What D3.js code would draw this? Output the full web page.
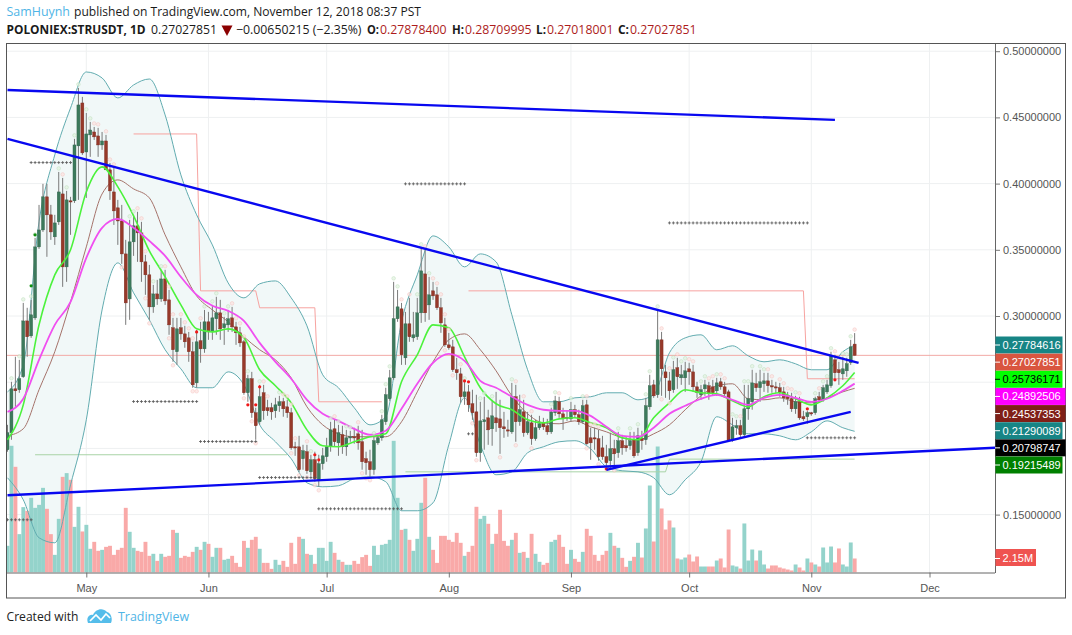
<!DOCTYPE html>
<html><head><meta charset="utf-8">
<script src="https://cdn.jsdelivr.net/npm/d3@7"></script>
<style>html,body{margin:0;padding:0;background:#fff}svg{display:block}</style>
</head><body><div id="c"></div>
<script>
// ---- daily candles from 2018-04-11, one entry per day
const startDate = new Date(Date.UTC(2018,3,11));
const opens=[.1990,.2118,.2450,.2443,.2541,.2963,.2850,.2986,.3522,.3650,.3900,.3764,.3598,.3711,.3922,.3371,.3870,.3870,.4285,.4609,.4239,.4368,.4390,.4360,.4292,.4322,.4104,.3937,.3817,.3718,.3469,.3129,.3560,.3681,.3628,.3409,.3311,.3069,.3167,.3129,.3280,.3122,.2911,.2730,.2911,.2865,.2835,.2730,.2495,.2813,.2752,.2956,.2880,.2979,.3024,.2911,.2933,.2986,.2918,.2873,.2805,.2420,.2526,.2269,.2201,.2420,.2307,.2307,.2284,.2322,.2352,.2314,.2269,.2012,.2012,.1922,.1975,.1823,.1914,.1763,.1884,.1937,.2012,.2148,.2042,.2103,.2012,.2080,.2088,.2110,.2050,.1922,.1899,.1839,.2042,.2080,.2201,.2375,.2533,.2979,.3054,.2684,.2941,.2835,.2843,.3024,.3318,.3084,.3190,.3160,.3062,.2933,.2782,.2767,.2594,.2563,.2390,.2427,.2337,.2276,.1967,.2201,.2231,.2148,.2231,.2223,.2163,.2140,.2125,.2390,.2201,.2276,.2118,.2193,.2073,.2156,.2193,.2171,.2125,.2269,.2352,.2261,.2235,.2223,.2292,.2254,.2201,.2329,.2080,.2080,.2073,.2004,.1937,.1907,.1997,.1967,.2058,.2020,.2020,.2065,.1967,.2073,.2065,.2314,.2480,.2405,.2820,.2578,.2510,.2443,.2609,.2533,.2533,.2601,.2578,.2465,.2405,.2450,.2473,.2465,.2435,.2503,.2465,.2427,.2065,.2156,.2171,.2103,.2299,.2352,.2488,.2458,.2488,.2510,.2473,.2465,.2458,.2427,.2390,.2375,.2299,.2352,.2239,.2239,.2269,.2269,.2390,.2367,.2427,.2473,.2669,.2594,.2563,.2586,.2647,.27878];
const closes=[.2118,.2450,.2435,.2526,.2963,.2843,.3009,.3522,.3650,.3900,.3764,.3635,.3703,.3937,.3371,.3877,.3862,.4292,.4594,.4232,.4375,.4405,.4353,.4292,.4322,.4104,.3945,.3794,.3718,.3469,.3099,.3560,.3681,.3628,.3409,.3311,.3069,.3167,.3129,.3280,.3114,.2933,.2745,.2903,.2865,.2805,.2730,.2480,.2805,.2752,.2956,.2880,.2986,.3024,.2903,.2941,.2979,.2918,.2873,.2797,.2420,.2526,.2269,.2171,.2390,.2284,.2284,.2276,.2329,.2352,.2299,.2269,.2004,.2004,.1839,.1982,.1831,.1914,.1771,.1884,.1944,.2012,.2140,.2050,.2118,.2012,.2080,.2088,.2080,.2042,.1899,.1892,.1839,.2058,.2080,.2216,.2405,.2533,.2979,.3069,.2707,.2941,.2843,.2858,.3024,.3341,.3024,.3160,.3152,.3062,.2948,.2782,.2760,.2594,.2571,.2390,.2427,.2329,.2269,.1967,.2208,.2216,.2140,.2246,.2193,.2156,.2148,.2133,.2390,.2201,.2292,.2118,.2201,.2073,.2156,.2186,.2163,.2125,.2276,.2359,.2261,.2223,.2227,.2292,.2254,.2201,.2322,.2035,.2042,.2073,.1937,.1937,.1892,.1997,.1959,.2058,.2004,.2004,.2058,.1944,.2095,.2058,.2322,.2473,.2397,.2820,.2601,.2533,.2435,.2594,.2541,.2556,.2586,.2578,.2465,.2420,.2443,.2480,.2412,.2420,.2495,.2465,.2412,.2058,.2163,.2171,.2103,.2299,.2375,.2495,.2458,.2503,.2510,.2473,.2465,.2458,.2420,.2382,.2375,.2299,.2352,.2231,.2223,.2269,.2261,.2375,.2367,.2458,.2480,.2699,.2571,.2571,.2601,.2639,.2767,.27028];
const highs=[.2178,.2503,.2692,.2669,.3099,.3062,.3122,.3590,.3839,.3998,.3998,.3839,.3764,.4088,.4043,.3945,.3900,.4338,.4723,.4655,.4534,.4466,.4428,.4421,.4390,.4368,.4156,.4119,.3877,.3839,.3575,.3726,.3764,.3787,.3711,.3462,.3386,.3235,.3273,.3349,.3349,.3197,.2986,.2986,.2986,.2926,.2880,.2805,.2895,.2956,.3046,.3031,.3084,.3145,.3122,.2994,.3046,.3069,.2956,.2918,.2820,.2556,.2578,.2307,.2480,.2480,.2367,.2344,.2382,.2397,.2382,.2367,.2307,.2050,.2095,.2027,.2027,.1952,.1975,.1952,.2004,.2080,.2201,.2216,.2178,.2171,.2140,.2133,.2156,.2171,.2140,.1975,.1990,.2088,.2103,.2254,.2458,.2593,.3258,.3197,.3099,.3031,.3137,.3031,.3137,.3515,.3500,.3296,.3258,.3220,.3137,.2986,.2873,.2820,.2684,.2609,.2503,.2480,.2443,.2405,.2352,.2390,.2292,.2367,.2427,.2367,.2276,.2216,.2495,.2480,.2405,.2367,.2276,.2254,.2216,.2246,.2231,.2223,.2307,.2397,.2390,.2307,.2284,.2352,.2329,.2292,.2367,.2367,.2156,.2156,.2140,.2095,.2027,.2118,.2065,.2125,.2103,.2088,.2125,.2125,.2156,.2133,.2382,.2556,.2518,.3046,.2880,.2631,.2578,.2661,.2684,.2631,.2654,.2647,.2631,.2503,.2480,.2518,.2503,.2518,.2533,.2533,.2503,.2443,.2231,.2216,.2216,.2480,.2480,.2594,.2571,.2594,.2571,.2571,.2518,.2503,.2495,.2465,.2427,.2420,.2397,.2390,.2284,.2284,.2276,.2390,.2427,.2480,.2518,.2730,.2707,.2654,.2692,.2684,.2820,.28710];
const lows=[.1975,.2065,.2314,.2420,.2533,.2692,.2835,.2971,.3507,.3635,.3447,.3575,.3537,.3688,.3220,.3258,.3613,.3854,.3877,.4217,.3892,.4202,.4330,.4202,.4255,.4104,.3877,.3688,.3537,.3394,.2933,.2971,.3454,.3409,.3258,.3160,.2971,.3024,.3084,.3107,.3084,.2858,.2654,.2631,.2820,.2760,.2654,.2458,.2458,.2647,.2722,.2820,.2820,.2858,.2820,.2782,.2880,.2880,.2782,.2767,.2405,.2352,.2231,.2065,.2178,.2216,.2246,.2216,.2231,.2276,.2239,.2231,.1990,.1944,.1823,.1839,.1808,.1793,.1748,.1710,.1839,.1899,.1975,.2012,.1944,.1959,.1944,.2050,.2035,.1990,.1839,.1801,.1786,.1801,.2027,.2058,.2178,.2360,.2518,.2956,.2631,.2631,.2805,.2805,.2820,.2948,.2956,.2971,.3122,.3046,.2873,.2767,.2745,.2578,.2518,.2344,.2329,.2276,.2216,.1937,.1899,.1990,.2027,.2020,.2125,.1959,.2080,.2088,.2110,.2050,.2171,.2088,.2103,.2027,.2058,.2140,.2140,.2103,.2110,.2246,.2231,.2140,.2208,.2201,.2231,.2178,.2186,.2027,.1914,.1990,.1907,.1914,.1869,.1839,.1861,.1929,.1952,.1975,.1990,.1929,.1944,.1990,.2027,.2292,.2382,.2382,.2397,.2382,.2367,.2420,.2450,.2480,.2427,.2480,.2427,.2382,.2367,.2397,.2367,.2397,.2397,.2443,.2382,.2050,.2050,.2103,.2080,.2080,.2216,.2292,.2427,.2352,.2427,.2420,.2420,.2420,.2390,.2352,.2329,.2276,.2261,.2216,.2208,.2186,.2246,.2254,.2344,.2352,.2412,.2458,.2518,.2480,.2518,.2541,.2631,.27018];
const volumes=[4.10,19.46,16.23,5.89,10.04,9.47,11.47,9.93,10.39,13.0,9.78,5.89,2.71,8.24,14.69,15.26,14.23,7.01,10.09,6.3,7.32,3.64,4.71,3.33,3.48,3.94,4.1,2.71,3.48,3.79,9.93,6.25,3.79,3.33,3.17,4.71,2.56,2.87,1.79,2.87,2.41,2.56,6.55,6.09,2.25,2.56,2.41,3.17,3.94,3.48,4.71,4.4,2.41,3.79,3.79,1.95,2.1,2.56,1.48,.87,4.86,3.79,5.02,5.48,3.64,1.48,1.48,.56,1.95,1.18,1.79,.87,4.56,1.33,5.48,5.17,2.87,2.71,1.33,3.79,3.79,1.79,4.71,3.02,1.95,1.64,1.18,1.18,1.79,1.33,2.36,2.71,1.02,4.1,2.71,4.25,4.4,5.02,20.22,11.47,6.55,6.71,5.02,3.33,5.17,10.7,14.54,5.48,3.48,1.48,5.63,5.63,5.02,4.71,6.09,4.56,2.56,3.17,4.1,10.09,8.24,8.7,7.48,4.4,5.94,9.63,4.86,4.1,5.02,6.09,3.02,3.17,2.25,5.94,2.87,1.64,1.18,1.48,4.71,5.02,5.79,3.94,1.33,3.48,2.1,1.64,3.17,6.71,5.63,2.71,1.79,2.71,3.33,6.09,4.1,3.79,2.25,.87,1.79,2.41,4.56,2.30,6.76,13.36,4.76,19.35,9.83,6.6,7.99,6.91,2.15,2.0,2.3,2.76,1.69,2.46,.92,.92,.92,.92,1.84,2.15,.77,6.6,1.08,.92,.61,7.53,1.84,3.53,1.84,3.38,1.23,.61,1.08,1.08,.77,.61,.46,.31,1.23,.77,.31,2.15,1.54,1.23,.92,3.84,1.54,3.99,1.54,3.69,1.23,.92,4.61,2.15];

// ---- indicators, read every fourth day (day numbers counted from startDate)
const indicatorDays=d3.range(0,213,4).concat([215]);
const bbUpper=[.2427,.2631,.3711,.4217,.4571,.4843,.4798,.4647,.4745,.4790,.4519,.4066,.3764,.3537,.3250,.3137,.3243,.3265,.3137,.2926,.2556,.2458,.2307,.2178,.2239,.2956,.3311,.3605,.3522,.3371,.3469,.3409,.3009,.2594,.2352,.2352,.2382,.2390,.2420,.2420,.2367,.2405,.2722,.2835,.2858,.2745,.2775,.2699,.2654,.2669,.2639,.2594,.2594,.2730,.27785];
const bbLower=[.1778,.1612,.1325,.1287,.1725,.2216,.3046,.3401,.3175,.2971,.2745,.2601,.2458,.2458,.2578,.2480,.2178,.2050,.1922,.1740,.1710,.1718,.1771,.1786,.1748,.1529,.1529,.1589,.2027,.2382,.2027,.1801,.1823,.1967,.2012,.2050,.2058,.1997,.1861,.1831,.1823,.1778,.1650,.1763,.1899,.2239,.2178,.2110,.2110,.2095,.2065,.2125,.2208,.2156,.21290];
const emaGreen=[.2065,.2329,.2933,.3311,.3500,.3937,.4126,.3975,.3756,.3492,.3296,.3084,.2903,.2880,.2903,.2835,.2594,.2473,.2344,.2140,.2020,.2012,.2050,.2088,.2110,.2503,.2707,.2933,.2911,.2692,.2458,.2337,.2292,.2216,.2193,.2223,.2231,.2193,.2156,.2080,.2065,.2231,.2344,.2443,.2420,.2412,.2360,.2314,.2390,.2420,.2375,.2329,.2382,.2473,.25736];
const emaMagenta=[.2276,.2375,.2669,.2933,.3107,.3439,.3666,.3733,.3666,.3567,.3454,.3296,.3160,.3077,.3039,.2963,.2797,.2654,.2526,.2367,.2261,.2208,.2148,.2103,.2133,.2299,.2488,.2647,.2714,.2661,.2510,.2458,.2390,.2329,.2292,.2284,.2284,.2246,.2163,.2095,.2088,.2156,.2261,.2322,.2375,.2405,.2367,.2329,.2382,.2405,.2382,.2352,.2375,.2435,.24893];
const bbBasis=[.2095,.2148,.2443,.2730,.3107,.3522,.3922,.4028,.3960,.3892,.3613,.3371,.3152,.3046,.2956,.2843,.2745,.2669,.2533,.2314,.2178,.2110,.2088,.2088,.2088,.2201,.2427,.2654,.2820,.2865,.2745,.2586,.2397,.2261,.2193,.2186,.2208,.2163,.2125,.2080,.2065,.2110,.2178,.2292,.2397,.2473,.2488,.2375,.2367,.2382,.2352,.2344,.2382,.2427,.24537];

// ---- drawings and studies
const lastPrice=.27027851;
const trendFromDay=[0,0,0,152], trendToDay=[210,216,251,214];
const trendFromPrice=[.4707,.4338,.1646,.1838], trendToPrice=[.4481,.2646,.2005,.2276];
const stepRedDays=[[32,48,49,63,64,78,79,95],[117,202,203,215]];
const stepRedPrices=[[.4375,.4375,.3190,.3190,.3062,.3062,.2352,.2352],[.3190,.3190,.2526,.2526]];
const stepGreenDays=[[7,71],[101,167,168,215]];
const stepGreenPrices=[[.1952,.1952],[.1823,.1823,.1919,.1919]];
const plusFrom=[6,32,49,64,79,0,101,168,203,117];
const plusTo=[16,48,63,78,100,6,116,203,215,118];
const plusPrice=[.4159,.2354,.2052,.1780,.1544,.1461,.3998,.3703,.2080,.2110];
const redDotDays=[48,61,63,64,78,79,116,117,152,203,210];
const redDotPrices=[.2880,.2329,.2329,.2465,.1952,.1914,.2510,.2503,.1846,.2299,.2518];
const greenDotDays=[6,7];
const greenDotPrices=[.3228,.3613];
const markAboveDays=[1,3,4,6,7,13,14,15,17,18,20,21,22,23,25,26,27,31,32,33,34,35,37,39,40,41,42,44,45,46,47,49,50,52,53,55,56,57,58,59,60,61,64,65,66,69,70,71,72,73,76,77,82,83,84,86,87,89,93,95,96,97,98,99,100,102,104,105,106,107,108,109,110,111,112,115,116,120,121,123,128,129,131,133,138,139,140,143,146,147,148,149,150,155,158,160,162,163,165,166,168,169,170,171,172,173,174,176,177,178,179,180,181,182,184,185,186,187,188,189,191,192,193,194,196,197,198,199,200,201,205,206,207,208,209,210,211,212,213,214,215];
const markBelowDays=[29,35,36,41,42,47,48,60,62,63,72,74,76,78,79,90,91,92,111,113,118,119,125,129,133,147,150,152,154,166,168];

// ---- axes and labels
const priceTicks=[.5,.45,.4,.35,.3,.25,.2,.15];
const hiddenPriceTicks=[.25,.2];
const monthTicks=[[2018,4],[2018,5],[2018,6],[2018,7],[2018,8],[2018,9],[2018,10],[2018,11]];
const seriesLabels=["0.27784616","0.27027851","0.25736171","0.24892506","0.24537353","0.21290089","0.20798747","0.19215489"];
const labelColors=["#178585","#d9553f","#00ff00","#ff00ff","#801f17","#178585","#000000","#008000"];
const labelText=["#fff","#fff","#000","#fff","#fff","#fff","#fff","#fff"];
const labelWide=[0,0,0,1,1,0,1,0];
const volumeLabel="2.15M";

const W=1072,H=635;
const L=7,R=995,T=44,B=572.5;
const sansFont='"Liberation Sans",Arial,sans-serif';
const head='"Open Sans",sans-serif';
const svg=d3.select("#c").append("svg").attr("width",W).attr("height",H).style("background","#fff");

const dayDate=i=>d3.utcDay.offset(startDate,i);
const xS=d3.scaleUtc().domain([startDate,new Date(Date.UTC(2018,11,1))]).range([7.5,929.5]);
const xD=i=>xS(dayDate(i));
const y=d3.scaleLinear().domain([.3,.15]).range([316,514.6]);
const yV=d3.scaleLinear().domain([0,2.15]).range([B,B-14]);

const clipId="plot";
svg.append("clipPath").attr("id",clipId).append("rect").attr("x",L).attr("y",T).attr("width",R-L).attr("height",B-T);
const plot=svg.append("g").attr("clip-path",`url(#${clipId})`);

// grid
plot.selectAll("line.gy").data(priceTicks).join("line").attr("x1",L).attr("x2",R).attr("y1",d=>y(d)).attr("y2",d=>y(d)).attr("stroke","#eef0f1");
const months=monthTicks.map(m=>new Date(Date.UTC(m[0],m[1],1)));
plot.selectAll("line.gx").data(months).join("line").attr("x1",d=>xS(d)).attr("x2",d=>xS(d)).attr("y1",T).attr("y2",B).attr("stroke","#eef0f1");

// band fill
const rows=indicatorDays.map((d,i)=>({d,u:bbUpper[i],l:bbLower[i],g:emaGreen[i],m:emaMagenta[i],b:bbBasis[i]}));
const curve=d3.curveMonotoneX;
plot.append("path").datum(rows).attr("fill","#f1f8f8")
  .attr("d",d3.area().x(r=>xD(r.d)).y0(r=>y(r.l)).y1(r=>y(r.u)).curve(curve));

// volume
const candles=opens.map((o,i)=>({i,o,c:closes[i],h:highs[i],l:lows[i],v:volumes[i],up:closes[i]>=o}));
plot.selectAll("rect.vol").data(candles).join("rect").attr("class","vol")
  .attr("x",d=>xD(d.i)-1.9).attr("width",3.9).attr("y",d=>yV(d.v)).attr("height",d=>B-yV(d.v))
  .attr("fill",d=>d.up?"#94d3cb":"#f9a9a8");

// current price line
plot.append("line").attr("x1",L).attr("x2",R).attr("y1",y(lastPrice)).attr("y2",y(lastPrice)).attr("stroke","#f3a9a6").attr("stroke-width",1);

// step lines
const lineXY=d3.line().x(p=>xD(p[0])).y(p=>y(p[1]));
stepRedDays.forEach((ds,s)=>plot.append("path").attr("fill","none").attr("stroke","#f7a3a0").attr("stroke-width",1)
  .attr("d",lineXY(ds.map((d,i)=>[d,stepRedPrices[s][i]]))));
stepGreenDays.forEach((ds,s)=>plot.append("path").attr("fill","none").attr("stroke","#a8d3a6").attr("stroke-width",1)
  .attr("d",lineXY(ds.map((d,i)=>[d,stepGreenPrices[s][i]]))));

// indicator lines
const ind=(k,c,w)=>plot.append("path").datum(rows).attr("fill","none").attr("stroke",c).attr("stroke-width",w)
  .attr("d",d3.line().x(r=>xD(r.d)).y(r=>y(r[k])).curve(curve));
ind("u","#62acb0",1); ind("l","#62acb0",1); ind("b","#a5736b",1);

// candles
plot.selectAll("line.w").data(candles).join("line").attr("class","w")
  .attr("x1",d=>xD(d.i)).attr("x2",d=>xD(d.i)).attr("y1",d=>y(d.h)).attr("y2",d=>y(d.l)).attr("stroke","#7a7a7a").attr("stroke-width",1);
plot.selectAll("rect.b").data(candles).join("rect").attr("class","b")
  .attr("x",d=>xD(d.i)-1.5).attr("width",3)
  .attr("y",d=>y(Math.max(d.o,d.c))).attr("height",d=>Math.max(1.2,Math.abs(y(d.o)-y(d.c))))
  .attr("fill",d=>d.up?"#3d7a5c":"#97392a").attr("stroke",d=>d.up?"#33644c":"#7c2c20").attr("stroke-width",.4);

ind("g","#4cf23c",1.6); ind("m","#f04ff0",1.8);

// tiny study marks
const candleUp=i=>closes[i]>=opens[i];
const marks=plot.append("g").attr("opacity",.7);
marks.selectAll("circle.ma").data(markAboveDays).join("circle").attr("class","ma")
  .attr("cx",d=>xD(d)).attr("cy",d=>y(highs[d])-3.5).attr("r",1.8)
  .attr("fill",d=>candleUp(d)?"#e2f2df":"#fde3e0").attr("stroke",d=>candleUp(d)?"#a9d5a6":"#f3aeaa").attr("stroke-width",.5);
marks.selectAll("circle.mb").data(markBelowDays).join("circle").attr("class","mb")
  .attr("cx",d=>xD(d)).attr("cy",d=>y(lows[d])+3.5).attr("r",1.8)
  .attr("fill","#fde3e0").attr("stroke","#f3aeaa").attr("stroke-width",.5);

// plus rows
plusFrom.forEach((from,r)=>{
  const days=d3.range(from,plusTo[r]+1);
  const g=plot.append("g").attr("stroke","#555").attr("stroke-width",.8);
  g.selectAll("path").data(days).join("path")
   .attr("d",d=>{const X=xD(d),Y=y(plusPrice[r]);return `M${X-1.5},${Y}H${X+1.5}M${X},${Y-1.5}V${Y+1.5}`;});
});

// dots
plot.selectAll("circle.rd").data(redDotDays).join("circle").attr("class","rd")
  .attr("cx",d=>xD(d)).attr("cy",(d,i)=>y(redDotPrices[i])).attr("r",1.6).attr("fill","#f01818");
plot.selectAll("circle.gd").data(greenDotDays).join("circle").attr("class","gd")
  .attr("cx",d=>xD(d)).attr("cy",(d,i)=>y(greenDotPrices[i])).attr("r",1.6).attr("fill","#109010");

// trend lines
plot.selectAll("line.t").data(trendFromDay).join("line").attr("class","t")
  .attr("x1",d=>xD(d)).attr("y1",(d,i)=>y(trendFromPrice[i]))
  .attr("x2",(d,i)=>xD(trendToDay[i])).attr("y2",(d,i)=>y(trendToPrice[i]))
  .attr("stroke","#0808f0").attr("stroke-width",2.4);

// axes (the .25 and .20 tick labels sit behind the value tags in the reference)
const yAxis=svg.append("g").attr("transform",`translate(${R},0)`)
  .call(d3.axisRight(y).tickValues(priceTicks).tickFormat(d=>hiddenPriceTicks.includes(d)?"":d3.format(".8f")(d)).tickSize(5).tickPadding(3));
const xAxis=svg.append("g").attr("transform",`translate(0,${B})`)
  .call(d3.axisBottom(xS).tickValues(months).tickFormat(d3.utcFormat("%b")).tickSize(5).tickPadding(7));
[yAxis,xAxis].forEach(a=>{a.selectAll("text").attr("fill","#555").style("font-family",sansFont).style("font-size","11px");
  a.selectAll("line").attr("stroke","#777"); a.select(".domain").remove();});
svg.append("line").attr("x1",R+.5).attr("x2",R+.5).attr("y1",T).attr("y2",B+.5).attr("stroke","#666");
svg.append("line").attr("x1",L).attr("x2",R).attr("y1",B+.5).attr("y2",B+.5).attr("stroke","#666");
svg.append("rect").attr("x",6.5).attr("y",43.5).attr("width",1059).attr("height",554.5).attr("fill","none").attr("stroke","#555");

// price labels
const labelTop=d3.scalePoint().domain(d3.range(seriesLabels.length)).range([345,465]);
const lg=svg.append("g");
seriesLabels.forEach((t,i)=>{
  const cy=labelTop(i);
  lg.append("rect").attr("x",R+.5).attr("y",cy-8.5).attr("width",labelWide[i]?70:67).attr("height",17).attr("fill",labelColors[i]);
  lg.append("line").attr("x1",R).attr("x2",R+5).attr("y1",cy).attr("y2",cy).attr("stroke",labelText[i]);
  lg.append("text").attr("x",1002.5).attr("y",cy+4).attr("fill",labelText[i]).style("font-family",sansFont).style("font-size","11px").text(t);
});
lg.append("rect").attr("x",R+.5).attr("y",549).attr("width",40.5).attr("height",17).attr("fill","#ef5350");
lg.append("line").attr("x1",R).attr("x2",R+5).attr("y1",yV(2.15)).attr("y2",yV(2.15)).attr("stroke","#fff");
lg.append("text").attr("x",1002.5).attr("y",561.5).attr("fill","#fff").style("font-family",sansFont).style("font-size","11px").text(volumeLabel);

// header
const tx=(s,x,yy,o={})=>{const e=svg.append("text").attr("x",x).attr("y",yy).attr("fill",o.c||"#1a1a1a")
   .style("font-family",head).style("font-size",(o.s||12.5)+"px").style("font-weight",o.b?"700":"400").text(s);
   if(o.w)e.attr("textLength",o.w).attr("lengthAdjust","spacingAndGlyphs");return e;};
tx("SamHuynh",6.5,16,{c:"#4fb5e6",w:63.5,s:13});
tx("published on TradingView.com, November 12, 2018 08:37 PST",74,16,{w:347,s:13});
tx("POLONIEX:STRUSDT, 1D",6.5,33.5,{b:1,w:139,s:12});
tx("0.27027851",151,33.5,{w:66});
svg.append("path").attr("d","M221.5,25.5H232.5L227,36Z").attr("fill","#8b0000");
tx("−0.00650215 (−2.35%)",236,33.5,{w:125.5});
const ohlcTitles=["O:","H:","L:","C:"], ohlcValues=["0.27878400","0.28709995","0.27018001","0.27027851"];
const ohlcX=[367,452,536,618], ohlcTitleW=[12,12,10,11], ohlcValueX=[380,465,547,630];
ohlcTitles.forEach((t,i)=>{tx(t,ohlcX[i],33.5,{b:1,w:ohlcTitleW[i]});tx(ohlcValues[i],ohlcValueX[i],33.5,{c:"#ad1c1c",w:66.5});});

// footer
tx("Created with",6.5,621,{c:"#222",w:72,s:13});
tx("TradingView",118,621,{c:"#4fb5e6",w:71,s:13});
svg.append("path").attr("d","M88,623C86,618 89,614 93,615C95,609 103,607 107,612C111,613 113,619 111,623Z").attr("fill","#55bdea");
svg.append("path").attr("d","M90,621L96,615L101,620L106,614L110,618").attr("fill","none").attr("stroke","#fff").attr("stroke-width",1.7);
</script></body></html>
